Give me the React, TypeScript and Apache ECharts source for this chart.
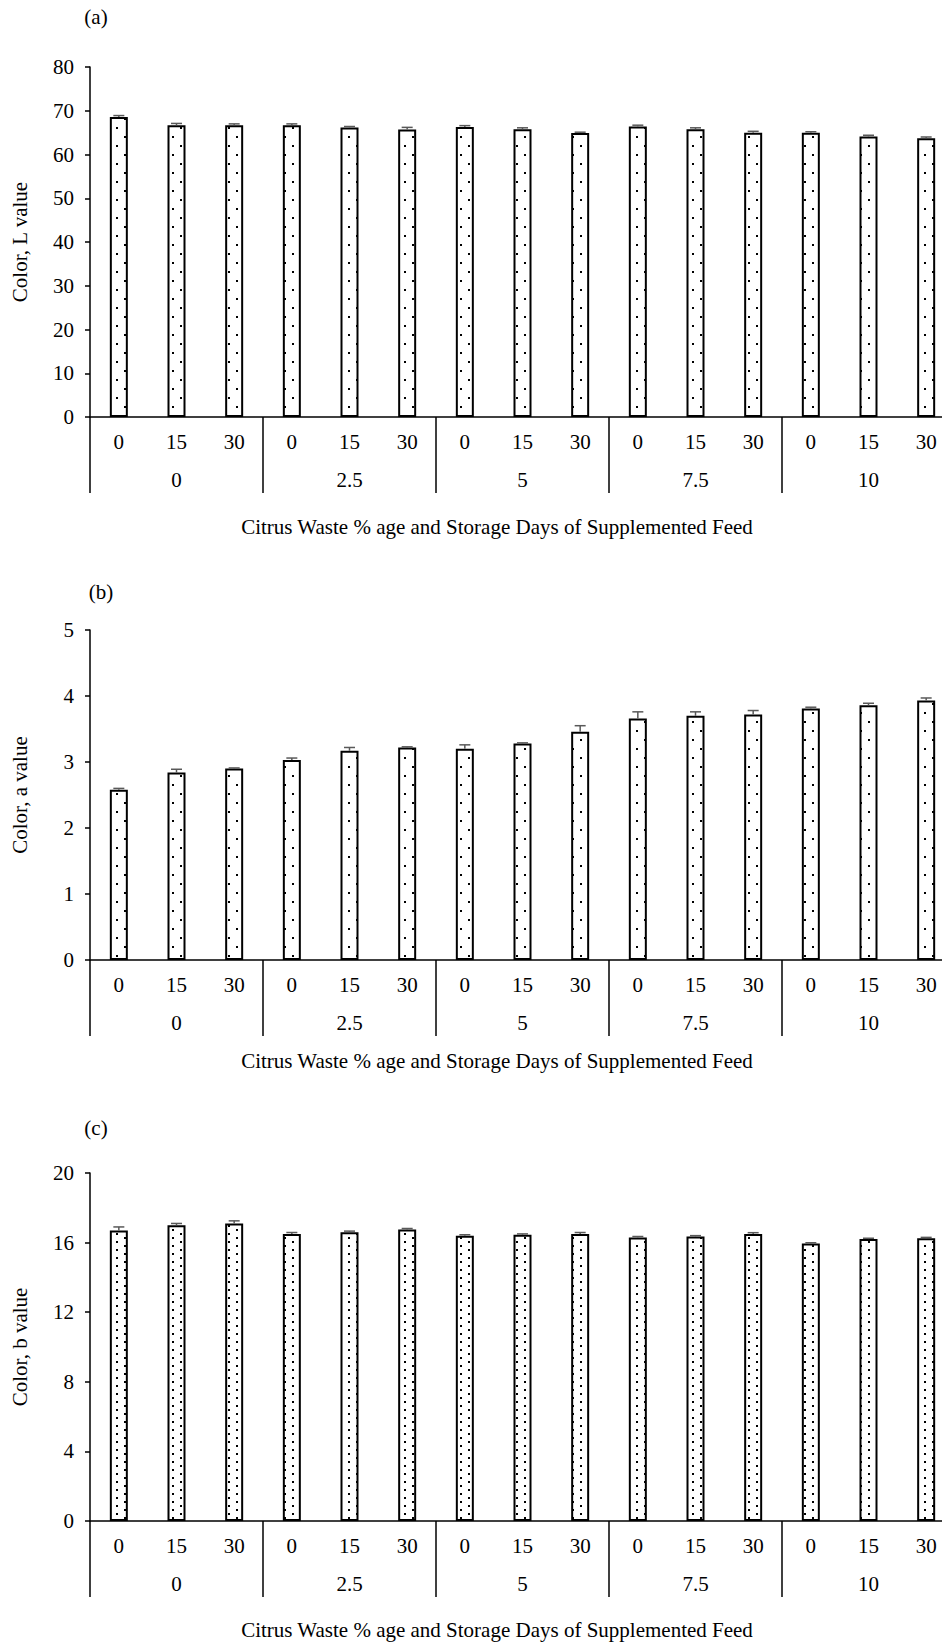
import React, { useEffect, useRef } from "react";
import * as echarts from "echarts";

const subLabels = ["0", "15", "30", "0", "15", "30", "0", "15", "30", "0", "15", "30", "0", "15", "30"];
const groupLabels = ["0", "2.5", "5", "7.5", "10"];

const lValues = [68.6, 66.7, 66.7, 66.7, 66.2, 65.7, 66.3, 65.8, 64.9, 66.4, 65.8, 65.0, 65.0, 64.1, 63.7];
const lErrors = [0.3, 0.4, 0.3, 0.3, 0.2, 0.5, 0.3, 0.3, 0.2, 0.3, 0.3, 0.3, 0.2, 0.3, 0.3];

const aValues = [2.58, 2.84, 2.9, 3.03, 3.17, 3.22, 3.2, 3.28, 3.46, 3.66, 3.7, 3.72, 3.81, 3.86, 3.93];
const aErrors = [0.02, 0.05, 0.01, 0.03, 0.05, 0.01, 0.06, 0.01, 0.09, 0.1, 0.06, 0.06, 0.02, 0.03, 0.04];

const bValues = [16.7, 17.0, 17.1, 16.5, 16.6, 16.75, 16.4, 16.45, 16.5, 16.3, 16.35, 16.5, 15.95, 16.2, 16.25];
const bErrors = [0.2, 0.1, 0.15, 0.08, 0.06, 0.06, 0.05, 0.05, 0.08, 0.05, 0.05, 0.07, 0.04, 0.05, 0.05];

const panelLetters = ["(a)", "(b)", "(c)"];
const yNames = ["Color, L value", "Color, a value", "Color, b value"];
const xTitle = "Citrus Waste % age and Storage Days of Supplemented Feed";

const FONT = "'Liberation Serif', 'Times New Roman', serif";

function makeDots(w: number, h: number, pts: number[][]) {
  const c = document.createElement("canvas");
  c.width = w;
  c.height = h;
  const ctx = c.getContext("2d")!;
  ctx.fillStyle = "#ffffff";
  ctx.fillRect(0, 0, w, h);
  ctx.fillStyle = "#000000";
  pts.forEach(([x, y]) => ctx.fillRect(x, y, 2, 2));
  return c;
}

export default function App() {
  const ref = useRef<HTMLDivElement>(null);
  useEffect(() => {
    if (!ref.current) return;
    const chart = echarts.init(ref.current, null, { renderer: "svg" });
    const sparse = makeDots(16, 18, [[4, 1], [12, 10]]);
    const dense = makeDots(16, 8, [[4, 1], [12, 5]]);
    const patterns = [
      { image: sparse, repeat: "repeat", imageWidth: 16, imageHeight: 18 },
      { image: sparse, repeat: "repeat", imageWidth: 16, imageHeight: 18 },
      { image: dense, repeat: "repeat", imageWidth: 16, imageHeight: 8 },
    ];
    const grids = [
      { left: 90, width: 865, top: 67, height: 350 },
      { left: 90, width: 865, top: 630, height: 330 },
      { left: 90, width: 865, top: 1173, height: 348 },
    ];
    const yCfg = [
      { max: 80, interval: 10 },
      { max: 5, interval: 1 },
      { max: 20, interval: 4 },
    ];
    const allValues = [lValues, aValues, bValues];
    const allErrors = [lErrors, aErrors, bErrors];
    const titleY = [527, 1061, 1630];
    const letterPos = [
      [96, 17],
      [101, 592],
      [96, 1128],
    ];
    const textStyle = { color: "#000", fontFamily: FONT, fontSize: 21 };

    const xAxes: any[] = [];
    const yAxes: any[] = [];
    const series: any[] = [];
    const graphics: any[] = [];
    for (let k = 0; k < 3; k++) {
      xAxes.push({
        type: "category",
        gridIndex: k,
        position: "bottom",
        data: subLabels,
        axisLine: { show: true, onZero: false, lineStyle: { color: "#000", width: 1.5 } },
        axisTick: { show: false },
        axisLabel: { interval: 0, margin: 14, ...textStyle },
        splitLine: { show: false },
      });
      xAxes.push({
        type: "category",
        gridIndex: k,
        position: "bottom",
        offset: 0,
        data: groupLabels,
        axisLine: { show: false },
        axisTick: { show: true, length: 76, lineStyle: { color: "#000", width: 1.5 } },
        axisLabel: { interval: 0, margin: 52, ...textStyle },
        splitLine: { show: false },
      });
      yAxes.push({
        type: "value",
        gridIndex: k,
        min: 0,
        max: yCfg[k].max,
        interval: yCfg[k].interval,
        name: yNames[k],
        nameLocation: "middle",
        nameGap: 60,
        nameRotate: 90,
        nameTextStyle: textStyle,
        axisLine: { show: true, lineStyle: { color: "#000", width: 1.5 } },
        axisTick: { show: true, length: 5, lineStyle: { color: "#000", width: 1.5 } },
        axisLabel: { margin: 16, ...textStyle },
        splitLine: { show: false },
      });
      series.push({
        type: "bar",
        xAxisIndex: k * 2,
        yAxisIndex: k,
        barWidth: 18,
        data: allValues[k],
        itemStyle: { color: patterns[k], borderColor: "#000", borderWidth: 2 },
        silent: true,
      });
      const errs = allErrors[k];
      series.push({
        type: "custom",
        xAxisIndex: k * 2,
        yAxisIndex: k,
        data: allValues[k].map((v, i) => [i, v, errs[i]]),
        encode: { x: 0, y: 1 },
        z: 5,
        silent: true,
        renderItem: (params: any, api: any) => {
          const i = api.value(0);
          const v = api.value(1);
          const e = api.value(2);
          const p0 = api.coord([i, v]);
          const p1 = api.coord([i, v + e]);
          const st = { stroke: "#595959", lineWidth: 1.5 };
          return {
            type: "group",
            children: [
              { type: "line", shape: { x1: p0[0], y1: p0[1], x2: p1[0], y2: p1[1] }, style: st },
              { type: "line", shape: { x1: p1[0] - 5.5, y1: p1[1], x2: p1[0] + 5.5, y2: p1[1] }, style: st },
            ],
          };
        },
      });
      graphics.push({
        type: "text",
        x: 497,
        y: titleY[k],
        style: { text: xTitle, fill: "#000", font: `21px ${FONT}`, textAlign: "center", textVerticalAlign: "middle" },
      });
      graphics.push({
        type: "text",
        x: letterPos[k][0],
        y: letterPos[k][1],
        style: { text: panelLetters[k], fill: "#000", font: `21px ${FONT}`, textAlign: "center", textVerticalAlign: "middle" },
      });
    }

    chart.setOption({
      animation: false,
      backgroundColor: "#fff",
      grid: grids,
      xAxis: xAxes,
      yAxis: yAxes,
      series,
      graphic: graphics,
    });
    return () => chart.dispose();
  }, []);
  return (
    <div style={{ position: "absolute", left: 0, top: 0, width: 942, height: 1642, overflow: "hidden", background: "#fff" }}>
      <div ref={ref} style={{ width: 970, height: 1642 }} />
    </div>
  );
}
